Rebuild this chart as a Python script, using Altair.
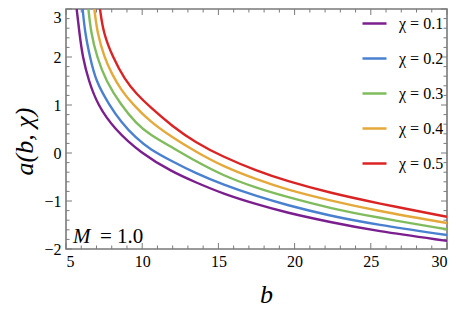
import altair as alt
import pandas as pd

# ---- data ----
labels = ["χ = 0.1", "χ = 0.2", "χ = 0.3", "χ = 0.4", "χ = 0.5"]
colors = ["#7B1E8E", "#4A80D0", "#80BC5E", "#E4A93A", "#DA2424"]

b_01 = [5.70, 5.88, 6.09, 6.49, 7.08, 8.17, 9.9, 12.0, 13.5, 15.3, 17.5, 19.44, 22.32, 25.34, 30.0]
a_01 = [3.0, 2.5, 2.0, 1.5, 1.0, 0.5, 0.0, -0.40, -0.61, -0.85, -1.07, -1.24, -1.44, -1.625, -1.83]

b_02 = [6.09, 6.25, 6.57, 6.95, 7.84, 8.6, 9.59, 10.5, 12.0, 13.5, 15.3, 17.5, 19.44, 22.32, 25.34, 30.0]
a_02 = [3.0, 2.5, 2.0, 1.5, 1.0, 0.65, 0.31, 0.08, -0.18, -0.42, -0.66, -0.90, -1.08, -1.31, -1.49, -1.71]

b_03 = [6.47, 6.64, 7.03, 7.62, 8.61, 9.59, 10.5, 12.0, 13.5, 15.3, 17.5, 19.44, 22.32, 25.34, 30.0]
a_03 = [3.0, 2.5, 2.0, 1.5, 1.0, 0.62, 0.38, 0.11, -0.17, -0.47, -0.73, -0.91, -1.15, -1.34, -1.59]

b_04 = [6.86, 7.05, 7.51, 8.0, 8.6, 9.42, 10.5, 12.0, 13.5, 15.3, 17.5, 19.44, 22.32, 25.34, 30.0]
a_04 = [3.0, 2.5, 2.0, 1.65, 1.32, 1.0, 0.66, 0.32, 0.03, -0.28, -0.55, -0.76, -0.99, -1.20, -1.46]

b_05 = [7.23, 7.45, 8.06, 8.87, 9.6, 10.5, 12.0, 13.5, 15.3, 17.5, 19.44, 22.32, 25.34, 30.0]
a_05 = [3.0, 2.5, 2.0, 1.52, 1.24, 0.96, 0.55, 0.22, -0.08, -0.37, -0.58, -0.83, -1.04, -1.33]

x_major = [5, 10, 15, 20, 25, 30]
x_minor = [v for v in range(6, 30) if v % 5 != 0]
y_major = [-2, -1, 0, 1, 2, 3]
y_minor = [round(-2 + 0.2 * i, 1) for i in range(26) if i % 5 != 0]

W, H = 381, 240
FONT = "Liberation Serif"
FRAME = "#7a7a7a"

rows = []
for lab, bs, as_ in zip(labels, [b_01, b_02, b_03, b_04, b_05],
                        [a_01, a_02, a_03, a_04, a_05]):
    for i, (b, a) in enumerate(zip(bs, as_)):
        rows.append({"series": lab, "b": b, "a": a, "order": i})
df = pd.DataFrame(rows)

xscale = alt.Scale(domain=[5, 30], nice=False, zero=False)
yscale = alt.Scale(domain=[-2, 3], nice=False, zero=False)

lines = alt.Chart(df).mark_line(strokeWidth=2.4, interpolate="basis", clip=True).encode(
    x=alt.X("b:Q", scale=xscale,
            axis=alt.Axis(values=x_major, title="b", ticks=False, domain=False, grid=False,
                          labelFont=FONT, labelFontSize=16, labelColor="black", labelPadding=4,
                          titleFont=FONT, titleFontSize=26, titleFontStyle="italic",
                          titleFontWeight="normal", titleColor="black",
                          titleX=200, titleY=53, titleBaseline="alphabetic")),
    y=alt.Y("a:Q", scale=yscale,
            axis=alt.Axis(values=y_major, title="a(b, χ)", ticks=False, domain=False, grid=False,
                          labelFont=FONT, labelFontSize=16, labelColor="black", labelPadding=5,
                          labelBaseline={"condition": {"test": "datum.value == 3", "value": "top"},
                                         "value": "middle"},
                          labelExpr="replace(datum.label, '-', '−')",
                          titleFont=FONT, titleFontSize=26, titleFontStyle="italic",
                          titleFontWeight="normal", titleColor="black",
                          titleX=-34, titleY=132, titleAlign="center",
                          titleBaseline="alphabetic")),
    color=alt.Color("series:N", scale=alt.Scale(domain=labels, range=colors),
                    legend=alt.Legend(title=None, orient="none", legendX=295, legendY=1,
                                      symbolType="stroke", symbolSize=576,
                                      symbolStrokeWidth=2.5, labelFont=FONT,
                                      labelFontSize=16, labelColor="black",
                                      rowPadding=13, labelOffset=11, padding=0)),
    order="order:Q",
)

def tick_layer(vals, axis, length):
    d = pd.DataFrame({"v": vals})
    base = alt.Chart(d).mark_rule(color=FRAME, strokeWidth=1)
    if axis == "x":
        bottom = base.encode(x=alt.X("v:Q", scale=xscale), y=alt.value(H), y2=alt.value(H - length))
        top = base.encode(x=alt.X("v:Q", scale=xscale), y=alt.value(0), y2=alt.value(length))
        return bottom + top
    left = base.encode(y=alt.Y("v:Q", scale=yscale), x=alt.value(0), x2=alt.value(length))
    right = base.encode(y=alt.Y("v:Q", scale=yscale), x=alt.value(W), x2=alt.value(W - length))
    return left + right

ticks = (tick_layer(x_major, "x", 6) + tick_layer(x_minor, "x", 3.5)
         + tick_layer(y_major, "y", 6) + tick_layer(y_minor, "y", 3.5))

m_txt = alt.Chart(pd.DataFrame({"t": ["M"]})).mark_text(
    font=FONT, fontSize=21, fontStyle="italic", align="left", baseline="alphabetic", color="black"
).encode(text="t:N", x=alt.value(7), y=alt.value(234))
eq_txt = alt.Chart(pd.DataFrame({"t": ["= 1.0"]})).mark_text(
    font=FONT, fontSize=21, align="left", baseline="alphabetic", color="black"
).encode(text="t:N", x=alt.value(34), y=alt.value(234))

chart = alt.layer(ticks, lines, m_txt, eq_txt).properties(
    width=W, height=H,
    autosize=alt.AutoSizeParams(type="none"),
    padding={"left": 58, "top": 1, "right": 3, "bottom": 64},
    background="white",
).configure_view(stroke=FRAME, strokeWidth=1.6)

chart.save("out.html", embed_options={"renderer": "svg", "actions": False})
